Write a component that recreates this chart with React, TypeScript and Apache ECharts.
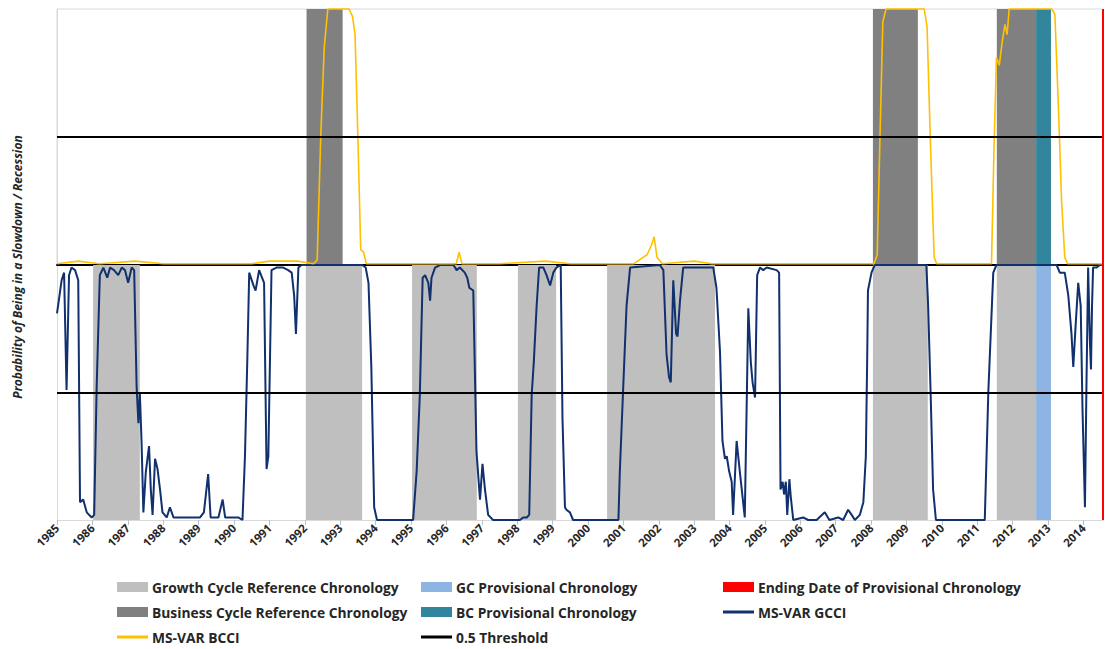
import React, { useEffect, useRef } from "react";
import * as echarts from "echarts";

// ---------- data (decimal years, probabilities) ----------
const gcciYears = [
  1985.0, 1985.13, 1985.2, 1985.27, 1985.34, 1985.41, 1985.51, 1985.6, 1985.65, 1985.74, 1985.84, 1985.98,
  1986.05, 1986.12, 1986.21, 1986.31, 1986.42, 1986.5, 1986.61, 1986.73, 1986.83, 1986.92, 1987.01, 1987.11,
  1987.18, 1987.25, 1987.3, 1987.34, 1987.39, 1987.44, 1987.51, 1987.6, 1987.65, 1987.7, 1987.77, 1987.84,
  1987.91, 1987.98, 1988.1, 1988.19, 1988.29, 1988.57, 1988.8, 1989.04, 1989.15, 1989.27, 1989.34, 1989.56,
  1989.68, 1989.75, 1989.98, 1990.12, 1990.24, 1990.31, 1990.38, 1990.43, 1990.55, 1990.61, 1990.71, 1990.85,
  1990.92, 1990.97, 1991.06, 1991.2, 1991.39, 1991.53, 1991.63, 1991.7, 1991.75, 1991.82, 1991.91, 1993.62,
  1993.72, 1993.8, 1993.88, 1993.96, 1994.04, 1995.06, 1995.16, 1995.25, 1995.33, 1995.4, 1995.49, 1995.54,
  1995.58, 1995.68, 1995.82, 1996.2, 1996.29, 1996.38, 1996.52, 1996.59, 1996.65, 1996.76, 1996.85, 1996.95,
  1997.02, 1997.09, 1997.18, 1997.32, 1998.08, 1998.17, 1998.27, 1998.34, 1998.41, 1998.47, 1998.55, 1998.62,
  1998.74, 1998.83, 1998.93, 1999.02, 1999.11, 1999.23, 1999.28, 1999.35, 1999.39, 1999.49, 1999.58, 2000.86,
  2000.9, 2000.99, 2001.09, 2001.19, 2002.03, 2002.13, 2002.22, 2002.29, 2002.34, 2002.41, 2002.49, 2002.53,
  2002.6, 2002.69, 2003.54, 2003.63, 2003.73, 2003.8, 2003.87, 2003.92, 2003.99, 2004.06, 2004.1, 2004.2,
  2004.29, 2004.43, 2004.53, 2004.6, 2004.65, 2004.72, 2004.78, 2004.86, 2004.95, 2005.05, 2005.33, 2005.4,
  2005.44, 2005.5, 2005.54, 2005.59, 2005.63, 2005.69, 2005.73, 2005.8, 2006.08, 2006.22, 2006.46, 2006.69,
  2006.82, 2007.07, 2007.21, 2007.35, 2007.45, 2007.54, 2007.68, 2007.78, 2007.85, 2007.89, 2007.91, 2008.01,
  2008.1, 2009.56, 2009.61, 2009.68, 2009.75, 2009.83, 2011.21, 2011.31, 2011.45, 2011.54, 2013.24, 2013.33,
  2013.47, 2013.57, 2013.66, 2013.71, 2013.78, 2013.85, 2013.92, 2013.97, 2014.04, 2014.08, 2014.13, 2014.18,
  2014.21, 2014.24, 2014.27, 2014.37, 2014.46, 2014.54,
];
const gcciValues = [
  0.81, 0.94, 0.97, 0.51, 0.96, 0.99, 0.98, 0.94, 0.07, 0.08, 0.03, 0.01,
  0.02, 0.52, 0.96, 0.99, 0.95, 0.99, 0.98, 0.96, 0.99, 0.98, 0.93, 0.99,
  0.98, 0.52, 0.38, 0.5, 0.3, 0.03, 0.19, 0.29, 0.12, 0.02, 0.24, 0.2,
  0.12, 0.03, 0.01, 0.05, 0.01, 0.01, 0.01, 0.01, 0.03, 0.18, 0.01, 0.01,
  0.08, 0.01, 0.01, 0.01, 0.0, 0.25, 0.65, 0.97, 0.92, 0.9, 0.98, 0.93,
  0.2, 0.25, 0.98, 0.99, 0.99, 0.98, 0.97, 0.88, 0.73, 0.99, 1.0, 1.0,
  0.99, 0.93, 0.6, 0.05, 0.0, 0.0, 0.19, 0.49, 0.95, 0.96, 0.93, 0.86,
  0.95, 0.99, 1.0, 1.0, 0.98, 0.99, 0.97, 0.95, 0.91, 0.9, 0.27, 0.08,
  0.22, 0.12, 0.02, 0.0, 0.0, 0.01, 0.01, 0.02, 0.49, 0.62, 0.84, 0.99,
  0.99, 0.96, 0.92, 0.97, 0.99, 1.0, 0.4, 0.05, 0.04, 0.03, 0.0, 0.0,
  0.19, 0.5, 0.84, 0.99, 1.0, 0.98, 0.65, 0.56, 0.54, 0.94, 0.73, 0.72,
  0.86, 0.99, 0.99, 0.91, 0.66, 0.31, 0.24, 0.25, 0.19, 0.15, 0.02, 0.31,
  0.19, 0.01, 0.83, 0.62, 0.54, 0.48, 0.96, 0.99, 0.98, 0.99, 0.98, 0.97,
  0.12, 0.15, 0.1, 0.15, 0.02, 0.16, 0.09, 0.0, 0.01, 0.0, 0.0, 0.03,
  0.0, 0.01, 0.0, 0.04, 0.02, 0.0, 0.02, 0.07, 0.25, 0.65, 0.9, 0.97,
  1.0, 1.0, 0.84, 0.5, 0.12, 0.0, 0.0, 0.5, 0.97, 1.0, 1.0, 0.97,
  0.97, 0.88, 0.73, 0.6, 0.77, 0.93, 0.84, 0.44, 0.05, 0.5, 0.99, 0.7,
  0.59, 0.84, 0.99, 0.99, 1.0, 1.0,
];

const bcciYears = [
  1985.0, 1985.6, 1986.2, 1987.2, 1988.0, 1990.5, 1991.0, 1991.8, 1992.25, 1992.35, 1992.45, 1992.55,
  1992.65, 1993.25, 1993.35, 1993.42, 1993.5, 1993.58, 1993.66, 1993.74, 1995.5, 1996.28, 1996.36, 1996.44,
  1997.5, 1998.8, 1999.5, 2001.3, 2001.45, 2001.67, 2001.8, 2001.87, 2001.95, 2002.1, 2003.0, 2003.5,
  2008.08, 2008.17, 2008.25, 2008.33, 2008.42, 2009.5, 2009.58, 2009.67, 2009.78, 2009.85, 2011.4, 2011.47,
  2011.54, 2011.62, 2011.7, 2011.78, 2011.84, 2011.9, 2013.1, 2013.19, 2013.29, 2013.38, 2013.47, 2013.55,
  2014.55,
];
const bcciValues = [
  0.005, 0.015, 0.005, 0.015, 0.005, 0.005, 0.015, 0.015, 0.005, 0.02, 0.5, 0.85,
  1.0, 1.0, 0.97, 0.9, 0.5, 0.06, 0.05, 0.005, 0.005, 0.005, 0.05, 0.005,
  0.005, 0.015, 0.005, 0.005, 0.02, 0.04, 0.08, 0.11, 0.03, 0.005, 0.015, 0.005,
  0.005, 0.04, 0.5, 0.95, 1.0, 1.0, 0.93, 0.5, 0.03, 0.005, 0.005, 0.45,
  0.81, 0.78, 0.87, 0.94, 0.9, 1.0, 1.0, 0.98, 0.62, 0.25, 0.03, 0.005,
  0.005,
];

const growthCycle = [
  [1986.02, 1987.34], [1992.03, 1993.62], [1995.03, 1996.86], [1998.02, 1999.1],
  [2000.54, 2003.59], [2008.05, 2009.6], [2011.55, 2012.66],
];
const gcProvisional = [[2012.66, 2013.08]];
const businessCycle = [[1992.05, 1993.07], [2008.05, 2009.32], [2011.55, 2012.66]];
const bcProvisional = [[2012.66, 2013.08]];
const endingDate = 2014.55;
const startDate = 1985;
const threshold = 0.5;

const legendRows = [
  [
    { name: "Growth Cycle Reference Chronology", kind: "box", color: "#bfbfbf" },
    { name: "GC Provisional Chronology", kind: "box", color: "#8db4e2" },
    { name: "Ending Date of Provisional Chronology", kind: "box", color: "#ff0000" },
  ],
  [
    { name: "Business Cycle Reference Chronology", kind: "box", color: "#808080" },
    { name: "BC Provisional Chronology", kind: "box", color: "#31859c" },
    { name: "MS-VAR GCCI", kind: "line", color: "#10306e" },
  ],
  [
    { name: "MS-VAR BCCI", kind: "line", color: "#ffc000" },
    { name: "0.5 Threshold", kind: "line", color: "#000000" },
  ],
];

const COLORS = {
  gc: "#bfbfbf",
  gcProv: "#8db4e2",
  bc: "#808080",
  bcProv: "#31859c",
  gcci: "#10306e",
  bcci: "#ffc000",
  red: "#ff0000",
};

function zip(xs: number[], ys: number[]) {
  return xs.map((x, i) => [x, ys[i]]);
}

function areas(list: number[][], color: string) {
  return list.map(([a, b]) => [{ xAxis: a, itemStyle: { color } }, { xAxis: b }]);
}

export default function App() {
  const ref = useRef<HTMLDivElement>(null);

  useEffect(() => {
    if (!ref.current) return;
    const chart = echarts.init(ref.current, null, { renderer: "svg" });

    const legendGraphics: any[] = [];
    const colX = [117, 421, 723];
    const rowY = [587, 612, 637];
    legendRows.forEach((row, r) => {
      row.forEach((it, c) => {
        const x = colX[c];
        const y = rowY[r];
        if (it.kind === "box") {
          legendGraphics.push({
            type: "rect",
            shape: { x, y: y - 5, width: 31, height: 10 },
            style: { fill: it.color },
          });
        } else {
          legendGraphics.push({
            type: "rect",
            shape: { x, y: y - 1.5, width: 31, height: 3 },
            style: { fill: it.color },
          });
        }
        legendGraphics.push({
          type: "text",
          x: x + 35,
          y,
          style: {
            text: it.name,
            fill: "#262626",
            font: "bold 13.8px 'Open Sans'",
            textVerticalAlign: "middle",
          },
        });
      });
    });

    const option: any = {
      animation: false,
      grid: [
        { left: 57, right: 3, top: 9, height: 256, show: true, borderColor: "#d9d9d9", borderWidth: 1, backgroundColor: "transparent" },
        { left: 57, right: 3, top: 265, height: 255 },
      ],
      xAxis: [
        {
          type: "value",
          gridIndex: 0,
          min: startDate,
          max: endingDate,
          interval: 1,
          axisLine: { show: true, lineStyle: { color: "#000", width: 2 } },
          axisTick: { show: false },
          axisLabel: { show: false },
          splitLine: { show: false },
        },
        {
          type: "value",
          gridIndex: 1,
          min: startDate,
          max: endingDate,
          interval: 1,
          axisLine: { show: true, lineStyle: { color: "#d9d9d9", width: 1 } },
          axisTick: { show: true, length: 5, lineStyle: { color: "#bfbfbf" } },
          axisLabel: {
            rotate: 45,
            showMaxLabel: false,
            margin: 6,
            color: "#262626",
            fontFamily: "Open Sans",
            fontWeight: "bold",
            fontSize: 11.5,
            formatter: (v: number) => (Number.isInteger(v) ? String(v) : ""),
          },
          splitLine: { show: false },
        },
      ],
      yAxis: [
        {
          type: "value",
          gridIndex: 0,
          min: 0,
          max: 1,
          axisLine: { show: true, lineStyle: { color: "#d9d9d9" } },
          axisTick: { show: false },
          axisLabel: { show: false },
          splitLine: { show: false },
        },
        {
          type: "value",
          gridIndex: 1,
          min: 0,
          max: 1,
          axisLine: { show: true, lineStyle: { color: "#d9d9d9" } },
          axisTick: { show: false },
          axisLabel: { show: false },
          splitLine: { show: false },
        },
      ],
      series: [
        {
          name: "MS-VAR BCCI",
          type: "line",
          xAxisIndex: 0,
          yAxisIndex: 0,
          data: zip(bcciYears, bcciValues),
          showSymbol: false,
          symbol: "none",
          clip: false,
          lineStyle: { color: COLORS.bcci, width: 1.6 },
          z: 3,
          markArea: {
            silent: true,
            data: [...areas(businessCycle, COLORS.bc), ...areas(bcProvisional, COLORS.bcProv)],
          },
          markLine: {
            silent: true,
            symbol: "none",
            label: { show: false },
            data: [
              { yAxis: threshold, lineStyle: { color: "#000", width: 2, type: "solid" } },
              { xAxis: endingDate, lineStyle: { color: COLORS.red, width: 2, type: "solid" } },
            ],
          },
        },
        {
          name: "MS-VAR GCCI",
          type: "line",
          xAxisIndex: 1,
          yAxisIndex: 1,
          data: zip(gcciYears, gcciValues),
          showSymbol: false,
          symbol: "none",
          clip: false,
          lineStyle: { color: COLORS.gcci, width: 2 },
          z: 2,
          markArea: {
            silent: true,
            data: [...areas(growthCycle, COLORS.gc), ...areas(gcProvisional, COLORS.gcProv)],
          },
          markLine: {
            silent: true,
            symbol: "none",
            label: { show: false },
            data: [
              { yAxis: threshold, lineStyle: { color: "#000", width: 2, type: "solid" } },
              { xAxis: endingDate, lineStyle: { color: COLORS.red, width: 2, type: "solid" } },
            ],
          },
        },
      ],
      graphic: [
        {
          type: "text",
          x: 17,
          y: 267,
          rotation: Math.PI / 2,
          style: {
            text: "Probability of Being in a Slowdown / Recession",
            fill: "#262626",
            font: "italic bold 12px 'Open Sans'",
            textAlign: "center",
            textVerticalAlign: "middle",
          },
        },
        ...legendGraphics,
      ],
    };

    chart.setOption(option);
    return () => chart.dispose();
  }, []);

  return (
    <div
      ref={ref}
      style={{ position: "absolute", left: 0, top: 0, width: 1106, height: 649, background: "#fff" }}
    />
  );
}
